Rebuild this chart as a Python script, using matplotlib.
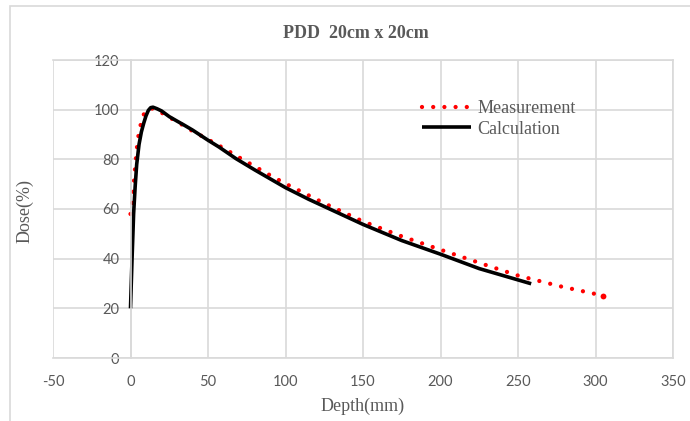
import matplotlib.pyplot as plt
from matplotlib.patches import Rectangle

plt.rcParams['axes.unicode_minus'] = False

# Measurement (dotted red) and calculation (solid black) PDD curves
meas_depth = [0, 1, 2, 3, 4, 5, 6, 8, 10, 12.5, 15, 20, 25, 30, 40, 50, 60,
              70, 80, 90, 100, 125, 150, 175, 200, 229, 250, 277, 305]
meas_dose = [58, 61.5, 69.5, 77, 84, 89, 92.5, 97.5, 99.5, 100.6, 100.3, 98.8,
             96.9, 95.2, 91.4, 88, 84.5, 80.8, 77.2, 73.6, 70.2, 62.3, 55, 49,
             43.6, 37.5, 33.2, 28.9, 25.1]

calc_depth = [0, 1, 2, 3, 4, 5.5, 7, 8.5, 10, 11.5, 13, 14.5, 17, 20, 25, 30,
              34, 40, 50, 57, 68, 80, 90, 100, 115, 133, 150, 175, 200, 225, 258.5]
calc_dose = [20, 40, 58, 69, 78, 86, 91, 94.5, 97.5, 99.7, 100.8, 101, 100.4,
             99.5, 97.2, 95.4, 94, 91.8, 87.7, 85, 80.3, 75.8, 72.2, 68.6, 63.9,
             58.7, 53.8, 47.3, 41.8, 36.0, 29.9]

x_ticks = [-50, 0, 50, 100, 150, 200, 250, 300, 350]
y_ticks = [0, 20, 40, 60, 80, 100, 120]

W, H = 690, 421
grid_c = '#d9d9d9'
text_c = '#595959'
serif = ['Liberation Serif', 'DejaVu Serif']

fig = plt.figure(figsize=(W / 100, H / 100), dpi=100)
fig.patches.append(Rectangle((10 / W, -0.1), 1.1, 1.1 - 6 / H, transform=fig.transFigure,
                             fill=False, edgecolor=grid_c, linewidth=1.2))

ax = fig.add_axes([53 / W, (H - 358) / H, 620 / W, 298 / H])
ax.set_xlim(-50, 350)
ax.set_ylim(0, 120)
ax.set_xticks(x_ticks)
ax.set_yticks(y_ticks)
ax.grid(True, color=grid_c, linewidth=1.2)
ax.set_axisbelow(True)

for s in ['top', 'right', 'bottom']:
    ax.spines[s].set_color(grid_c)
    ax.spines[s].set_linewidth(1.2)
ax.spines['left'].set_position(('data', 0))
ax.spines['left'].set_color(grid_c)
ax.spines['left'].set_linewidth(1.2)
ax.tick_params(axis='both', length=0, labelsize=10.5, labelcolor=text_c)
ax.tick_params(axis='x', pad=12)
ax.tick_params(axis='y', pad=8)
for lab in ax.get_xticklabels() + ax.get_yticklabels():
    lab.set_family(['Lato', 'DejaVu Sans'])

ax.plot(meas_depth, meas_dose, color='#ff0000', linewidth=3.1,
        linestyle=(0, (0.001, 2.6)), dash_capstyle='round', label='Measurement')
# last measured point (the dash pattern may stop short of it)
ax.plot(meas_depth[-1:], meas_dose[-1:], 'o', color='#ff0000', markersize=4.2,
        markeredgewidth=0)
ax.plot(calc_depth, calc_dose, color='black', linewidth=2.6,
        solid_capstyle='butt', solid_joinstyle='round', label='Calculation')

fig.text(356 / W, 1 - 34 / H, 'PDD  20cm x 20cm', ha='center', va='center',
         fontsize=13, fontweight='bold', color=text_c, family=serif)
fig.text(363 / W, 1 - 406 / H, 'Depth(mm)', ha='center', va='center',
         fontsize=13, color=text_c, family=serif)
fig.text(25 / W, 1 - 211 / H, 'Dose(%)', ha='center', va='center', rotation=90,
         fontsize=13, color=text_c, family=serif)

leg = ax.legend(loc='center left', bbox_to_anchor=(422 / W, 1 - 119 / H),
                bbox_transform=fig.transFigure, frameon=False,
                handlelength=2.7, handletextpad=0.35, labelspacing=0.2,
                borderpad=0, borderaxespad=0, prop={'family': serif, 'size': 13})
for t in leg.get_texts():
    t.set_color(text_c)

fig.savefig('out.png', dpi=100)
